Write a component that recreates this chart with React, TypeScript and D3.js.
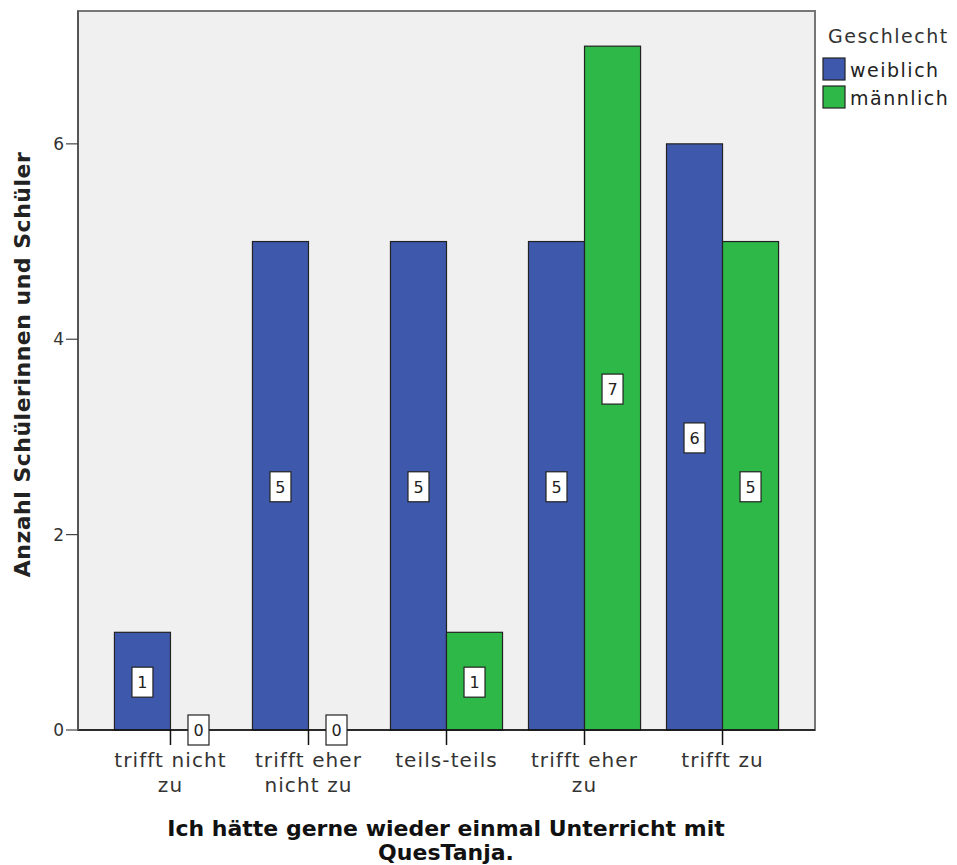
import React from "react";
import * as d3 from "d3";

const categories = ["trifft nicht zu", "trifft eher nicht zu", "teils-teils", "trifft eher zu", "trifft zu"];
const categoryLines = [["trifft nicht", "zu"], ["trifft eher", "nicht zu"], ["teils-teils"], ["trifft eher", "zu"], ["trifft zu"]];
const seriesNames = ["weiblich", "männlich"];
const weiblich = [1, 5, 5, 5, 6];
const maennlich = [0, 0, 1, 7, 5];
const yTicks = [0, 2, 4, 6];
const colors = ["#3e58ac", "#2eb848"];

const W = 957, H = 865;
const L = 78, R = 815, T = 11, B = 730;
const FONT = "'DejaVu Sans', Verdana, sans-serif";

export default function App() {
  const x = d3.scaleBand<string>().domain(categories).range([L, R]).paddingInner(0.188).paddingOuter(0.264);
  const xs = d3.scaleBand<string>().domain(seriesNames).range([0, x.bandwidth()]);
  const y = d3.scaleLinear().domain([0, 7.36]).range([B, T]);
  const series = [weiblich, maennlich];

  return (
    <svg width={W} height={H} style={{ position: "absolute", left: 0, top: 0, background: "#fff" }} fontFamily={FONT}>
      <rect x={L} y={T} width={R - L} height={B - T} fill="#f0f0f0" stroke="#777" strokeWidth={2} />
      {series.map((vals, si) =>
        vals.map((v, ci) => {
          const bx = (x(categories[ci]) as number) + (xs(seriesNames[si]) as number);
          const bw = xs.bandwidth();
          return v > 0 ? (
            <rect key={`b${si}-${ci}`} x={bx} y={y(v)} width={bw} height={B - y(v)} fill={colors[si]} stroke="#222" strokeWidth={1.2} />
          ) : null;
        })
      )}
      <line x1={L} x2={R} y1={B} y2={B} stroke="#111" strokeWidth={1.5} />
      <line x1={L} x2={L} y1={T} y2={B} stroke="#555" strokeWidth={2} />
      {yTicks.map((t) => (
        <g key={`yt${t}`}>
          <line x1={L - 12} x2={L} y1={y(t)} y2={y(t)} stroke="#444" strokeWidth={1.2} />
          <text x={L - 14} y={y(t)} dy="0.35em" textAnchor="end" fontSize={17} fill="#333">{t}</text>
        </g>
      ))}
      {categories.map((c, ci) => {
        const cx = (x(c) as number) + x.bandwidth() / 2;
        return (
          <g key={`xt${ci}`}>
            <line x1={cx} x2={cx} y1={B} y2={B + 15} stroke="#111" strokeWidth={1.5} />
            {categoryLines[ci].map((ln, li) => (
              <text key={li} x={cx} y={767 + li * 25} textAnchor="middle" fontSize={20} letterSpacing={1.1} fill="#333">{ln}</text>
            ))}
          </g>
        );
      })}
      {series.map((vals, si) =>
        vals.map((v, ci) => {
          const cx = (x(categories[ci]) as number) + (xs(seriesNames[si]) as number) + xs.bandwidth() / 2;
          const cy = y(v / 2) + (v === 0 ? 0 : 1);
          return (
            <g key={`l${si}-${ci}`}>
              <rect x={cx - 10.5} y={cy - 15} width={21} height={30} fill="#fff" stroke="#222" strokeWidth={1.2} />
              <text x={cx} y={cy} dy="0.36em" textAnchor="middle" fontSize={16} fill="#222">{v}</text>
            </g>
          );
        })
      )}
      <text transform={`translate(30,${(T + B) / 2 - 6}) rotate(-90)`} textAnchor="middle" fontSize={22} letterSpacing={0.5} fontWeight="bold" fill="#222">Anzahl Schülerinnen und Schüler</text>
      <text x={446} y={836} textAnchor="middle" fontSize={22} fontWeight="bold" fill="#111">Ich hätte gerne wieder einmal Unterricht mit</text>
      <text x={446} y={860} textAnchor="middle" fontSize={22} fontWeight="bold" fill="#111">QuesTanja.</text>
      <text x={828} y={43} fontSize={19} letterSpacing={1.5} fill="#333">Geschlecht</text>
      {seriesNames.map((s, si) => (
        <g key={`lg${si}`}>
          <rect x={823} y={58 + si * 28} width={22} height={22} fill={colors[si]} stroke="#222" strokeWidth={1.2} />
          <text x={850} y={70 + si * 28} dy="0.35em" fontSize={19} letterSpacing={1.5} fill="#222">{s}</text>
        </g>
      ))}
    </svg>
  );
}
